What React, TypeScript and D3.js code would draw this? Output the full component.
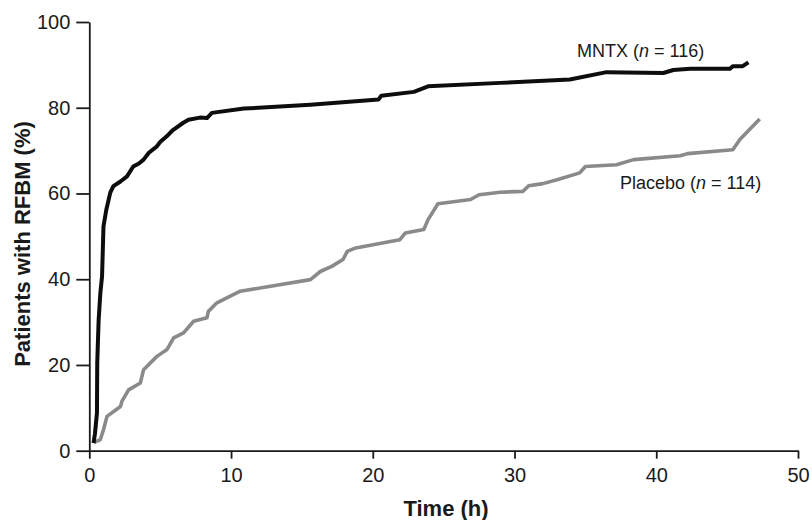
import React, { useRef, useEffect } from "react";
import { select, scaleLinear, axisBottom, axisLeft, line, curveLinear } from "d3";

// (time in hours, % of patients with RFBM)
const mntxTime = [0.3, 0.4, 0.54, 0.56, 0.66, 0.78, 0.9, 1.0, 1.2, 1.48, 1.7, 2.2, 2.66, 3.1, 3.5, 3.83, 4.2, 4.77, 5.0, 5.48, 5.9, 6.63, 7.0, 7.8, 8.3, 8.65, 10.9, 15.6, 20.4, 20.6, 22.9, 23.9, 29, 33.9, 36.5, 40.5, 41.2, 42.4, 45.2, 45.4, 46.1, 46.5];
const mntxPct = [1.8, 4, 8.8, 20.5, 30.6, 36.8, 40.7, 52.3, 56.2, 60.2, 61.7, 62.8, 64, 66.3, 67, 67.9, 69.5, 71, 72, 73.4, 74.8, 76.5, 77.2, 77.7, 77.6, 78.8, 79.8, 80.7, 81.9, 82.8, 83.7, 85, 85.8, 86.6, 88.3, 88.1, 88.8, 89.1, 89.1, 89.7, 89.7, 90.6];

const placeboTime = [0.3, 0.78, 1.0, 1.25, 2.2, 2.3, 2.77, 3.6, 3.83, 4.77, 5.48, 5.95, 6.65, 7.36, 8.3, 8.4, 9.0, 10.65, 15.6, 16.3, 17.1, 17.9, 18.2, 18.8, 21.9, 22.3, 23.6, 23.9, 24.6, 26.9, 27.5, 29, 30.6, 31, 32, 33, 34.6, 35, 37.2, 38.4, 41.7, 42.2, 45.4, 45.9, 47.3];
const placeboPct = [1.9, 2.6, 4.9, 8, 10.3, 11.5, 14.2, 15.8, 18.9, 22, 23.6, 26.3, 27.5, 30.2, 31, 32.5, 34.5, 37.2, 39.9, 41.8, 43, 44.6, 46.5, 47.3, 49.2, 50.8, 51.6, 53.9, 57.6, 58.6, 59.7, 60.3, 60.5, 61.8, 62.3, 63.2, 64.8, 66.3, 66.7, 67.9, 68.8, 69.3, 70.2, 72.6, 77.4];

const xTicks = [0, 10, 20, 30, 40, 50];
const yTicks = [0, 20, 40, 60, 80, 100];

const W = 812;
const H = 520;
const left = 89.3, right = 798, top = 22, bottom = 450.7;
const font = "'Liberation Sans', Arial, Helvetica, sans-serif";

function App() {
  const svgRef = useRef<SVGSVGElement>(null);

  useEffect(() => {
    const svg = select(svgRef.current);
    svg.selectAll("*").remove();

    const x = scaleLinear().domain([0, 50]).range([left, right]);
    const y = scaleLinear().domain([0, 100]).range([bottom, top]);

    const xAxis = svg
      .append("g")
      .attr("transform", `translate(0,${bottom})`)
      .call(axisBottom(x).tickValues(xTicks).tickSize(8).tickPadding(9).tickSizeOuter(0));
    const yAxis = svg
      .append("g")
      .attr("transform", `translate(${left},0)`)
      .call(axisLeft(y).tickValues(yTicks).tickSize(13).tickPadding(6).tickSizeOuter(0));

    [xAxis, yAxis].forEach((g) => {
      g.selectAll("path, line").attr("stroke", "#1a1a1a").attr("stroke-width", 1.8);
      g.selectAll("text").attr("fill", "#1a1a1a").style("font-family", font).style("font-size", "20px");
    });

    const mntx = mntxTime.map((t, i) => [t, mntxPct[i]] as [number, number]);
    const placebo = placeboTime.map((t, i) => [t, placeboPct[i]] as [number, number]);
    const path = line<[number, number]>()
      .x((d) => x(d[0]))
      .y((d) => y(d[1]))
      .curve(curveLinear);

    svg.append("path").attr("d", path(placebo)).attr("fill", "none")
      .attr("stroke", "#8a8a8a").attr("stroke-width", 3.6).attr("stroke-linejoin", "round");
    svg.append("path").attr("d", path(mntx)).attr("fill", "none")
      .attr("stroke", "#0d0d0d").attr("stroke-width", 4).attr("stroke-linejoin", "round");

    const mLabel = svg.append("text").attr("x", 577).attr("y", 57)
      .style("font-family", font).style("font-size", "18px").attr("fill", "#1a1a1a");
    mLabel.append("tspan").text("MNTX (");
    mLabel.append("tspan").text("n").style("font-style", "italic");
    mLabel.append("tspan").text(" = 116)");

    const pLabel = svg.append("text").attr("x", 620).attr("y", 189)
      .style("font-family", font).style("font-size", "18px").attr("fill", "#1a1a1a");
    pLabel.append("tspan").text("Placebo (");
    pLabel.append("tspan").text("n").style("font-style", "italic");
    pLabel.append("tspan").text(" = 114)");

    svg.append("text").attr("x", 446).attr("y", 516).attr("text-anchor", "middle")
      .style("font-family", font).style("font-size", "22px").style("font-weight", "bold")
      .attr("fill", "#1a1a1a").text("Time (h)");

    svg.append("text").attr("transform", "translate(30,244) rotate(-90)").attr("text-anchor", "middle")
      .style("font-family", font).style("font-size", "22px").style("font-weight", "bold")
      .attr("fill", "#1a1a1a").text("Patients with RFBM (%)");
  }, []);

  return (
    <svg ref={svgRef} width={W} height={H} style={{ position: "absolute", left: 0, top: 0, background: "#fff" }} />
  );
}

export default App;
